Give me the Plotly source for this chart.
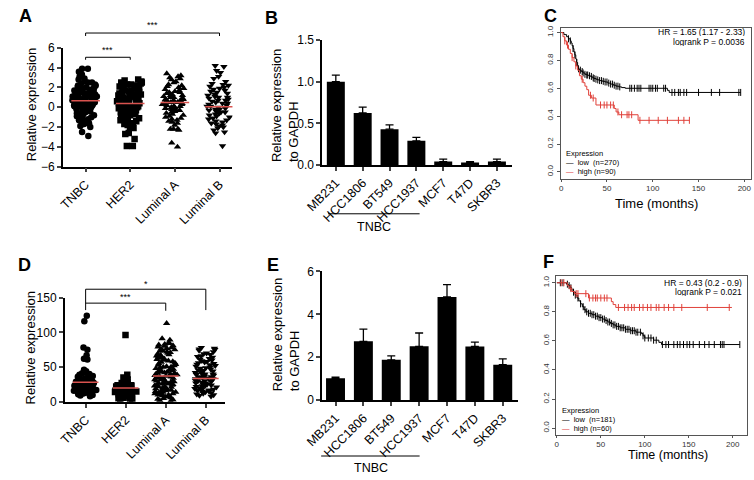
"""Six-panel figure: expression scatter, qPCR bars and KM survival curves."""

import numpy as np
import plotly.graph_objects as go

W, H = 754, 480
FONT = "Arial, Liberation Sans, sans-serif"
MEAN_RED = "#d9534f"
KM_RED = "#e0413a"

# ---- panels A / D: subtype scatter ----
subtypes = ["TNBC", "HER2", "Luminal A", "Luminal B"]
subtype_symbols = ["circle", "square", "triangle-up", "triangle-down"]

a_tnbc = [3.9, 3.9, 3.6, 3.5, 3.3, 3.1, 2.9, 2.8, 2.6, 2.5, 2.5, 2.4, 2.3, 2.2, 2.2, 2.1, 2.0, 2.0,
          1.9, 1.8, 1.8, 1.7, 1.7, 1.6, 1.6, 1.5, 1.5, 1.4, 1.4, 1.3, 1.3, 1.2, 1.2, 1.1, 1.1, 1.0,
          1.0, 1.0, 0.9, 0.9, 0.8, 0.8, 0.8, 0.7, 0.7, 0.6, 0.6, 0.6, 0.5, 0.5, 0.4, 0.4, 0.4, 0.3,
          0.3, 0.2, 0.2, 0.1, 0.1, 0.0, 0.0, -0.1, -0.1, -0.2, -0.3, -0.3, -0.4, -0.5, -0.5, -0.6,
          -0.7, -0.8, -0.8, -0.9, -1.0, -1.1, -1.2, -1.3, -1.4, -1.5, -1.5, -1.6, -1.7, -1.9, -2.0,
          -2.5, -2.9]
a_her2 = [2.8, 2.7, 2.6, 2.5, 2.5, 2.4, 2.4, 2.3, 2.3, 2.2, 2.1, 2.1, 2.0, 1.9, 1.9, 1.8, 1.7, 1.7,
          1.6, 1.5, 1.5, 1.4, 1.3, 1.3, 1.2, 1.1, 1.1, 1.0, 0.9, 0.9, 0.8, 0.8, 0.7, 0.6, 0.6, 0.5,
          0.5, 0.4, 0.4, 0.3, 0.3, 0.2, 0.2, 0.1, 0.1, 0.0, 0.0, -0.1, -0.2, -0.2, -0.3, -0.4, -0.4,
          -0.5, -0.6, -0.6, -0.7, -0.8, -0.9, -0.9, -1.0, -1.1, -1.2, -1.3, -1.4, -1.5, -1.6, -1.7,
          -1.8, -1.9, -2.0, -2.1, -2.6, -2.7, -3.2, -3.9, -3.9]
a_luma = [3.4, 3.2, 3.1, 3.0, 2.9, 2.8, 2.6, 2.5, 2.3, 2.2, 2.1, 2.0, 1.9, 1.8, 1.7, 1.6, 1.5, 1.5,
          1.4, 1.3, 1.2, 1.2, 1.1, 1.0, 1.0, 0.9, 0.8, 0.8, 0.7, 0.7, 0.6, 0.5, 0.5, 0.4, 0.4, 0.3,
          0.3, 0.2, 0.1, 0.1, 0.0, 0.0, -0.1, -0.2, -0.3, -0.3, -0.4, -0.5, -0.6, -0.7, -0.8, -0.9,
          -1.0, -1.1, -1.2, -1.3, -1.4, -1.5, -1.6, -1.8, -2.2, -2.2, -2.3, -2.2, -3.6, -4.0]
a_lumb = [4.2, 4.1, 3.7, 3.5, 3.1, 2.9, 2.6, 2.4, 2.3, 2.2, 2.1, 2.0, 1.9, 1.8, 1.7, 1.6, 1.5, 1.4,
          1.3, 1.2, 1.1, 1.0, 1.0, 0.9, 0.8, 0.7, 0.7, 0.6, 0.5, 0.4, 0.4, 0.3, 0.2, 0.1, 0.1, 0.0,
          -0.1, -0.2, -0.2, -0.3, -0.4, -0.5, -0.5, -0.6, -0.7, -0.8, -0.9, -1.0, -1.1, -1.2, -1.3,
          -1.4, -1.5, -1.6, -1.7, -1.8, -1.9, -2.0, -2.1, -2.3, -2.5, -2.6, -3.9]
a_means = [0.65, 0.39, 0.49, 0.06]

d_tnbc = [124, 116, 78, 75, 67, 62, 61, 46, 44, 43, 41, 40, 39, 38, 37, 36, 35, 34, 33, 33, 32, 31,
          30, 30, 29, 29, 28, 28, 27, 27, 26, 26, 25, 25, 25, 24, 24, 23, 23, 23, 22, 22, 21, 21, 21,
          20, 20, 19, 19, 18, 18, 18, 17, 17, 16, 16, 15, 15, 14, 14, 13, 13, 12, 12, 11, 10, 9, 8]
d_her2 = [96, 39, 35, 32, 30, 28, 27, 26, 25, 24, 24, 23, 22, 22, 21, 20, 20, 19, 19, 18, 18, 17,
          17, 16, 16, 15, 15, 14, 14, 13, 12, 12, 11, 10, 9, 8, 7, 6, 5, 4, 3, 2]
d_luma = [113, 91, 89, 85, 84, 83, 82, 81, 80, 79, 78, 77, 76, 75, 74, 73, 72, 71, 70, 69, 68, 67,
          66, 65, 64, 63, 62, 61, 60, 59, 58, 57, 56, 55, 54, 53, 52, 51, 50, 50, 49, 48, 47, 46,
          45, 45, 44, 43, 42, 42, 41, 40, 40, 39, 38, 38, 37, 36, 36, 35, 34, 34, 33, 32, 32, 31,
          30, 30, 29, 28, 28, 27, 26, 26, 25, 24, 24, 23, 22, 22, 21, 20, 20, 19, 18, 18, 17, 16,
          16, 15, 14, 14, 13, 12, 12, 11, 10, 10, 9, 8, 7, 6, 5, 4, 3, 2, 1]
d_lumb = [78, 77, 76, 75, 74, 72, 70, 69, 68, 66, 65, 64, 62, 61, 60, 59, 58, 57, 56, 55, 54, 53,
          52, 51, 50, 49, 48, 47, 46, 45, 44, 43, 42, 41, 40, 40, 39, 38, 37, 36, 36, 35, 34, 33,
          33, 32, 31, 30, 30, 29, 28, 27, 27, 26, 25, 24, 24, 23, 22, 21, 21, 20, 19, 18, 18, 17,
          16, 15, 15, 14, 13, 12, 11, 10, 9, 8]
d_means = [28, 20, 37, 33.5]

# ---- panels B / E: cell lines ----
cell_lines = ["MB231", "HCC1806", "BT549", "HCC1937", "MCF7", "T47D", "SKBR3"]
b_values = [1.0, 0.625, 0.43, 0.29, 0.04, 0.03, 0.04]
b_err = [0.078, 0.07, 0.05, 0.04, 0.03, 0.01, 0.03]
e_values = [1.02, 2.74, 1.88, 2.51, 4.81, 2.5, 1.65]
e_err = [0.05, 0.57, 0.18, 0.62, 0.57, 0.2, 0.27]

# ---- panels C / F: Kaplan-Meier ----
c_low_t = [0, 3, 6, 8, 10, 11, 12, 13, 14, 15, 16, 17, 18, 19, 20, 22, 24, 26, 28, 30, 32, 34, 36,
           38, 40, 42, 45, 48, 51, 54, 57, 60, 63, 66, 70, 116, 118, 196]
c_low_s = [1.0, 0.985, 0.97, 0.955, 0.94, 0.925, 0.905, 0.885, 0.86, 0.84, 0.81, 0.785, 0.755,
           0.74, 0.73, 0.72, 0.71, 0.70, 0.695, 0.69, 0.685, 0.675, 0.67, 0.665, 0.66, 0.655, 0.65,
           0.645, 0.637, 0.63, 0.622, 0.615, 0.61, 0.605, 0.60, 0.585, 0.57, 0.57]
c_low_cens = [8, 10, 13, 15, 17, 19, 21, 23, 24, 26, 28, 29, 31, 33, 35, 36, 38, 40, 42, 44, 46, 48,
              50, 52, 54, 56, 58, 60, 62, 64, 75, 77, 80, 83, 85, 87, 96, 98, 100, 103, 105, 112,
              114, 121, 124, 128, 130, 134, 137, 150, 164, 173, 194, 196]
c_high_t = [0, 2, 4, 6, 8, 10, 12, 14, 16, 18, 20, 22, 24, 26, 28, 30, 33, 38, 58, 60, 63, 84, 140]
c_high_s = [1.0, 0.97, 0.94, 0.91, 0.88, 0.85, 0.82, 0.79, 0.76, 0.73, 0.69, 0.665, 0.64, 0.615,
            0.59, 0.55, 0.53, 0.48, 0.455, 0.43, 0.41, 0.37, 0.37]
c_high_cens = [4, 7, 12, 16, 23, 32, 35, 43, 47, 50, 54, 57, 62, 66, 72, 74, 77, 86, 96, 106, 116,
               128, 134, 140]

f_low_t = [0, 11, 13, 15, 17, 19, 21, 23, 25, 27, 29, 31, 33, 36, 40, 44, 48, 52, 55, 58, 61, 64,
           67, 72, 78, 84, 90, 96, 98, 100, 110, 116, 119, 208]
f_low_s = [1.0, 0.99, 0.98, 0.965, 0.95, 0.935, 0.915, 0.895, 0.875, 0.855, 0.835, 0.815, 0.80,
           0.79, 0.78, 0.77, 0.76, 0.75, 0.74, 0.73, 0.72, 0.71, 0.70, 0.69, 0.68, 0.67, 0.66,
           0.65, 0.635, 0.62, 0.605, 0.59, 0.575, 0.575]
f_low_cens = [4, 7, 12, 14, 16, 19, 21, 24, 27, 30, 32, 34, 36, 38, 40, 42, 44, 46, 48, 50, 52, 54,
              56, 58, 60, 62, 64, 66, 68, 70, 72, 74, 76, 78, 80, 82, 84, 86, 88, 90, 92, 95, 98,
              100, 104, 107, 110, 113, 120, 124, 127, 133, 137, 140, 144, 148, 151, 155, 162, 168,
              173, 179, 186, 188, 190, 208]
f_high_t = [0, 12, 14, 17, 20, 36, 62, 64, 67, 199]
f_high_s = [1.0, 0.98, 0.96, 0.94, 0.925, 0.895, 0.87, 0.85, 0.83, 0.83]
f_high_cens = [5, 8, 16, 22, 24, 33, 37, 41, 44, 46, 50, 54, 57, 70, 77, 81, 85, 88, 94, 98, 103,
               107, 113, 116, 122, 127, 133, 142, 171, 196]

km_groups_c = [("low", "(n=270)", "black"), ("high", "(n=90)", KM_RED)]
km_groups_f = [("low", "(n=181)", "black"), ("high", "(n=60)", KM_RED)]


def xdom(x0, x1):
    return [x0 / W, x1 / W]


def ydom(y0, y1):
    return [1 - y1 / H, 1 - y0 / H]


def px(x):
    return x / W


def py(y):
    return 1 - y / H


AXES = {
    "A": dict(x=dict(domain=xdom(46, 220), range=[-0.51, 3.29]),
              y=dict(domain=ydom(42.1, 164.5), range=[-6, 6])),
    "B": dict(x=dict(domain=xdom(312, 507), range=[-0.51, 6.57]),
              y=dict(domain=ydom(34, 162.7), range=[0, 1.5])),
    "C": dict(x=dict(domain=xdom(556.7, 751.7), range=[-0.5, 207]),
              y=dict(domain=ydom(22, 177), range=[-0.05, 1.03])),
    "D": dict(x=dict(domain=xdom(48, 212), range=[-0.52, 3.47]),
              y=dict(domain=ydom(299.3, 406.7), range=[0, 150])),
    "E": dict(x=dict(domain=xdom(312, 513), range=[-0.48, 6.55]),
              y=dict(domain=ydom(272.3, 405), range=[0, 6])),
    "F": dict(x=dict(domain=xdom(552.3, 747.7), range=[-0.5, 216]),
              y=dict(domain=ydom(277.3, 440.5), range=[-0.045, 1.045])),
}
REFS = {"A": ("x", "y"), "B": ("x2", "y2"), "C": ("x3", "y3"),
        "D": ("x4", "y4"), "E": ("x5", "y5"), "F": ("x6", "y6")}


def to_paper(panel, xv, yv):
    ax, ay = AXES[panel]["x"], AXES[panel]["y"]
    fx = (xv - ax["range"][0]) / (ax["range"][1] - ax["range"][0])
    fy = (yv - ay["range"][0]) / (ay["range"][1] - ay["range"][0])
    return (ax["domain"][0] + fx * (ax["domain"][1] - ax["domain"][0]),
            ay["domain"][0] + fy * (ay["domain"][1] - ay["domain"][0]))


fig = go.Figure()
shapes, annotations = [], []


def add_line(x0, y0, x1, y1, color="black", width=1):
    shapes.append(dict(type="line", xref="paper", yref="paper", x0=x0, y0=y0, x1=x1, y1=y1,
                       line=dict(color=color, width=width)))


def add_text(x, y, text, size=12, xanchor="center", yanchor="middle", bold=False, angle=0,
             box_h=None):
    if bold:
        text = "<b>" + text + "</b>"
    ann = dict(x=x, y=y, xref="paper", yref="paper", text=text, showarrow=False,
               xanchor=xanchor, yanchor=yanchor, textangle=angle, align="left",
               font=dict(family=FONT, size=size, color="black"))
    if box_h:
        ann.update(height=box_h, borderpad=0, valign="middle")
    annotations.append(ann)


def km_legend(x, y, groups, line_gap, size=7.5):
    # one text block: the base font only sets the line pitch, spans set the glyph size
    style = f"font-size:{size}px"
    rows = [f"<span style='{style}'>Expression</span>"]
    for name, n, color in groups:
        rows.append(f"<span style='{style}'><span style='color:{color}'>—</span>  "
                    f"{name}{' ' if name == 'low' else ''} {n}</span>")
    add_text(x, y, "<br>".join(rows), size=line_gap / 1.3, xanchor="left")


def bracket(panel, x0, x1, ytop, ydrop_left, ydrop_right, label, label_y):
    p0 = to_paper(panel, x0, ytop)
    p1 = to_paper(panel, x1, ytop)
    add_line(p0[0], p0[1], p1[0], p1[1])
    add_line(p0[0], p0[1], p0[0], to_paper(panel, x0, ydrop_left)[1])
    add_line(p1[0], p1[1], p1[0], to_paper(panel, x1, ydrop_right)[1])
    lx, ly = to_paper(panel, (x0 + x1) / 2, label_y)
    add_text(lx, ly, label, size=9)


def scatter_panel(panel, groups, means, size):
    xr, yr = REFS[panel]
    for i, (vals, sym) in enumerate(zip(groups, subtype_symbols)):
        fig.add_trace(go.Box(
            y=vals, x0=i, xaxis=xr, yaxis=yr, width=0.6,
            boxpoints="all", jitter=1, pointpos=0,
            marker=dict(symbol=sym, size=size, color="black"),
            line=dict(color="rgba(0,0,0,0)", width=0), fillcolor="rgba(0,0,0,0)",
            showlegend=False, hoverinfo="y",
        ))
    mx, my = [], []
    for i, m in enumerate(means):
        mx += [i - 0.32, i + 0.32, None]
        my += [m, m, None]
    fig.add_trace(go.Scatter(x=mx, y=my, mode="lines", xaxis=xr, yaxis=yr,
                             line=dict(color=MEAN_RED, width=1.5), showlegend=False))


def bar_panel(panel, values, errs, width):
    xr, yr = REFS[panel]
    fig.add_trace(go.Bar(
        x=list(range(len(values))), y=values, xaxis=xr, yaxis=yr, width=width,
        marker=dict(color="black", line=dict(width=0)),
        error_y=dict(type="data", array=errs, arrayminus=[0] * len(errs), symmetric=False,
                     color="black", thickness=1.3, width=4),
        showlegend=False,
    ))


def step_at(ts, ss, t):
    idx = np.searchsorted(ts, t, side="right") - 1
    return [ss[k] for k in idx]


def km_panel(panel, curves):
    xr, yr = REFS[panel]
    for ts, ss, cens, color in curves:
        fig.add_trace(go.Scatter(x=ts, y=ss, mode="lines", line_shape="hv", xaxis=xr, yaxis=yr,
                                 line=dict(color=color, width=1), showlegend=False))
        fig.add_trace(go.Scatter(
            x=cens, y=step_at(ts, ss, cens), mode="markers", xaxis=xr, yaxis=yr,
            marker=dict(symbol="line-ns-open", size=5, color=color, line=dict(width=1, color=color)),
            showlegend=False,
        ))


scatter_panel("A", [a_tnbc, a_her2, a_luma, a_lumb], a_means, 6.5)
scatter_panel("D", [d_tnbc, d_her2, d_luma, d_lumb], d_means, 6.5)
bar_panel("B", b_values, b_err, 0.67)
bar_panel("E", e_values, e_err, 0.68)
km_panel("C", [(c_low_t, c_low_s, c_low_cens, "black"),
               (c_high_t, c_high_s, c_high_cens, KM_RED)])
km_panel("F", [(f_low_t, f_low_s, f_low_cens, "black"),
               (f_high_t, f_high_s, f_high_cens, KM_RED)])

# significance brackets
bracket("A", 0, 3, 7.5, 7.2, 7.2, "***", 8.3)
bracket("A", 0, 1, 5.05, 4.8, 4.8, "***", 5.8)
bracket("D", 0, 3, 162, 132, 132, "*", 170)
bracket("D", 0, 2, 142, 142, 131, "***", 150.6)

# axes
tickfont = dict(family=FONT, size=12, color="black")
layout_axes = {}
for k, (panel, (xr, yr)) in enumerate(REFS.items()):
    xn = "xaxis" if k == 0 else f"xaxis{k + 1}"
    yn = "yaxis" if k == 0 else f"yaxis{k + 1}"
    ax, ay = AXES[panel]["x"], AXES[panel]["y"]
    common = dict(showgrid=False, zeroline=False, showline=True, ticks="outside", fixedrange=True)
    if panel in ("C", "F"):
        kmfont = dict(family=FONT, size=8, color="#333")
        layout_axes[xn] = dict(domain=ax["domain"], range=ax["range"], anchor=yr, **common,
                               linecolor="#555", linewidth=1, mirror=True,
                               tickvals=[0, 50, 100, 150, 200], ticklen=2, tickcolor="#555",
                               tickfont=kmfont)
        layout_axes[yn] = dict(domain=ay["domain"], range=ay["range"], anchor=xr, **common,
                               linecolor="#555", linewidth=1, mirror=True,
                               tickvals=[0, 0.2, 0.4, 0.6, 0.8, 1.0], tickformat=".1f",
                               tickangle=-90, ticklen=3, tickcolor="#555", tickfont=kmfont)
        continue
    if panel in ("A", "D"):
        labels = subtypes
        ytick = dict(dtick=2, tick0=0) if panel == "A" else dict(dtick=50, tick0=0)
    else:
        labels = cell_lines
        ytick = dict(dtick=0.5, tickformat=".1f") if panel == "B" else dict(dtick=2)
    layout_axes[xn] = dict(domain=ax["domain"], range=ax["range"], anchor=yr, **common,
                           linecolor="black", linewidth=1.5, tickwidth=1.5, ticklen=4,
                           tickvals=list(range(len(labels))), ticktext=labels, tickangle=-45,
                           tickfont=dict(family=FONT, size=12.5, color="black"))
    layout_axes[yn] = dict(domain=ay["domain"], range=ay["range"], anchor=xr, **common,
                           linecolor="black", linewidth=1.5, tickwidth=1.5, ticklen=4,
                           tickfont=tickfont, **ytick)

# y-axis titles
add_text(px(13.5), py(101), "Relative expression", size=13, angle=-90)
add_text(px(13), py(351), "Relative expression", size=13, angle=-90)
add_text(px(274), py(102), "Relative expression<br>to GAPDH", size=13, angle=-90)
add_text(px(275), py(338), "Relative expression<br>to GAPDH", size=13, angle=-90)

# TNBC grouping under the cell lines
add_line(px(318), py(213), px(412), py(213))
add_text(px(365), py(227), "TNBC", size=12.5)
add_line(px(311), py(462.5), px(412), py(462.5))
add_text(px(362), py(475), "TNBC", size=12.5)

# KM text
add_text(px(655), py(202), "Time (months)", size=13)
add_text(px(667), py(461), "Time (months)", size=12.5)
add_text(px(747), py(25.5), "HR = 1.65 (1.17 - 2.33)", size=8.5, xanchor="right", box_h=9)
add_text(px(747), py(35.5), "logrank P = 0.0036", size=8.5, xanchor="right", box_h=9)
add_text(px(744), py(283.5), "HR = 0.43 (0.2 - 0.9)", size=8.5, xanchor="right", box_h=9)
add_text(px(744), py(293.5), "logrank P = 0.021", size=8.5, xanchor="right", box_h=9)

km_legend(px(560), py(160.5), km_groups_c, 8.8)
km_legend(px(555.7), py(424.5), km_groups_f, 8.8)

# panel letters
for letter, (lx, ly) in {"A": (8, 9), "B": (260, 11), "C": (546, 9),
                         "D": (7, 266), "E": (262, 266), "F": (544, 263)}.items():
    add_text(px(lx), py(ly), letter, size=18, bold=True)

fig.update_layout(
    width=W, height=H, margin=dict(l=0, r=0, t=0, b=0),
    paper_bgcolor="white", plot_bgcolor="white",
    font=dict(family=FONT, color="black"),
    showlegend=False, boxmode="overlay",
    shapes=shapes, annotations=annotations,
    **layout_axes,
)

# the page body has a default 8px margin; drop it so the figure sits at the window's corner
fig.write_html("out.html", config={"displayModeBar": False},
               post_script="document.body.style.margin='0';document.body.style.overflow='hidden';")
